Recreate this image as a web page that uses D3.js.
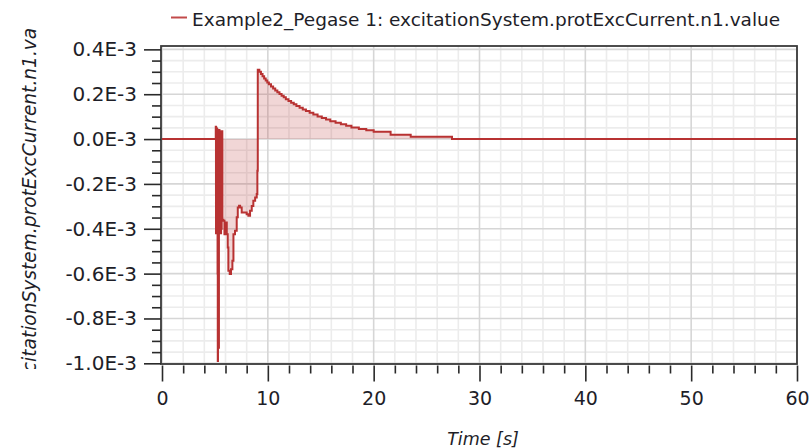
<!DOCTYPE html>
<html>
<head>
<meta charset="utf-8">
<script src="https://cdn.jsdelivr.net/npm/d3@7"></script>
<style>
  html, body { margin: 0; padding: 0; background: #fff; }
  svg { display: block; }
  text { font-family: "DejaVu Sans", Verdana, sans-serif; fill: #1e1e28; }
</style>
</head>
<body>
<svg id="chart" width="810" height="448"></svg>
<script>
// Simulation trace: excitation current protection signal (values in units of 1E-3)
const seriesName = "Example2_Pegase 1: excitationSystem.protExcCurrent.n1.value";
const yTitle = "excitationSystem.protExcCurrent.n1.value";
const xTitle = "Time [s]";

const timeS = [
  0, 5.05, 5.08, 5.10, 5.13, 5.16, 5.19, 5.22, 5.25, 5.27, 5.29, 5.31, 5.34, 5.38, 5.40,
  5.43, 5.46, 5.49, 5.52, 5.55, 5.58, 5.61, 5.64, 5.70, 5.80, 5.90, 6.02, 6.12, 6.21,
  6.27, 6.40, 6.52, 6.65, 6.75, 6.90, 7.06, 7.16, 7.28, 7.38, 7.53, 7.85, 8.00, 8.16,
  8.32, 8.48, 8.63, 8.80, 8.95, 9.01, 9.05, 9.20, 9.35, 9.50, 9.65, 9.80, 9.95, 10.10,
  10.30, 10.50, 10.70, 10.90, 11.10, 11.30, 11.50, 11.70, 11.95, 12.20, 12.45, 12.70,
  13.00, 13.30, 13.60, 13.95, 14.30, 14.70, 15.10, 15.50, 15.90, 16.40, 16.90, 17.40,
  17.90, 18.60, 19.30, 20.00, 21.60, 23.50, 27.40, 60
];
const valueE3 = [
  0, 0, 0.055, -0.42, 0.05, -0.42, 0.045, -0.42, -0.60, -0.99, -0.42, 0.04, -0.93, -0.40, 0.04,
  -0.42, 0.035, -0.42, 0.035, -0.42, 0.035, -0.40, 0.035, -0.36, -0.364, -0.424, -0.372, -0.424, -0.483,
  -0.587, -0.602, -0.58, -0.543, -0.424, -0.409, -0.349, -0.305, -0.297, -0.305, -0.327, -0.327, -0.335, -0.342,
  -0.320, -0.298, -0.275, -0.260, -0.245, -0.141, 0.309, 0.300, 0.290, 0.280, 0.270, 0.261, 0.252, 0.244,
  0.234, 0.225, 0.217, 0.209, 0.201, 0.193, 0.186, 0.178, 0.170, 0.162, 0.155, 0.148,
  0.140, 0.132, 0.125, 0.117, 0.109, 0.101, 0.094, 0.087, 0.080, 0.073, 0.066, 0.059,
  0.052, 0.045, 0.039, 0.033, 0.019, 0.010, 0.000, 0
];

// Axis ticks
const xMajorTicks = [0, 10, 20, 30, 40, 50, 60];
const xMinorTicks = [2, 4, 6, 8, 12, 14, 16, 18, 22, 24, 26, 28, 32, 34, 36, 38, 42, 44, 46, 48, 52, 54, 56, 58];
const yMajorTicks = [0.4, 0.2, 0.0, -0.2, -0.4, -0.6, -0.8, -1.0];
const yTickLabels = ["0.4E-3", "0.2E-3", "0.0E-3", "-0.2E-3", "-0.4E-3", "-0.6E-3", "-0.8E-3", "-1.0E-3"];
const yMinorTicks = [0.35, 0.3, 0.25, 0.15, 0.1, 0.05, -0.05, -0.1, -0.15, -0.25, -0.3, -0.35,
  -0.45, -0.5, -0.55, -0.65, -0.7, -0.75, -0.85, -0.9, -0.95];

const svg = d3.select("#chart");
const plot = { left: 161, right: 797, top: 46, bottom: 364 };

const x = d3.scaleLinear().domain([0, 60]).range([162, 797]);
const y = d3.scaleLinear().domain([-1.003, 0.415]).range([plot.bottom, plot.top]);

const data = timeS.map((t, i) => ({ t, v: valueE3[i] }));

// Grid
const grid = svg.append("g");
xMinorTicks.forEach(t => grid.append("line")
  .attr("x1", x(t)).attr("x2", x(t)).attr("y1", plot.top).attr("y2", plot.bottom)
  .attr("stroke", "#ececec").attr("stroke-width", 1.6));
yMinorTicks.forEach(v => grid.append("line")
  .attr("x1", plot.left).attr("x2", plot.right).attr("y1", y(v)).attr("y2", y(v))
  .attr("stroke", "#ececec").attr("stroke-width", 1.6));
xMajorTicks.forEach(t => grid.append("line")
  .attr("x1", x(t)).attr("x2", x(t)).attr("y1", plot.top).attr("y2", plot.bottom)
  .attr("stroke", "#d6d6d6").attr("stroke-width", 1.6));
yMajorTicks.forEach(v => grid.append("line")
  .attr("x1", plot.left).attr("x2", plot.right).attr("y1", y(v)).attr("y2", y(v))
  .attr("stroke", "#d6d6d6").attr("stroke-width", 1.6));

// Clip for the trace
svg.append("clipPath").attr("id", "plotClip").append("rect")
  .attr("x", plot.left).attr("y", plot.top)
  .attr("width", plot.right - plot.left).attr("height", plot.bottom - plot.top);

// Sampled signal held between samples
const area = d3.area().curve(d3.curveStepAfter).x(d => x(d.t)).y0(y(0)).y1(d => y(d.v));
const line = d3.line().curve(d3.curveStepAfter).x(d => x(d.t)).y(d => y(d.v));

const traceG = svg.append("g").attr("clip-path", "url(#plotClip)");
traceG.append("path").datum(data).attr("d", area)
  .attr("fill", "rgba(186, 52, 52, 0.2)");
traceG.append("path").datum(data).attr("d", line)
  .attr("fill", "none").attr("stroke", "#b83232").attr("stroke-width", 2)
  .attr("stroke-linejoin", "miter");

// Frame
svg.append("rect")
  .attr("x", plot.left).attr("y", plot.top)
  .attr("width", plot.right - plot.left).attr("height", plot.bottom - plot.top)
  .attr("fill", "none").attr("stroke", "#3a3a3a").attr("stroke-width", 1.8);

// Y axis
const yAxisMajor = d3.axisLeft(y).tickValues(yMajorTicks).tickSize(17).tickPadding(7)
  .tickFormat((d, i) => yTickLabels[i]);
const yAxisMinor = d3.axisLeft(y).tickValues(yMinorTicks).tickSize(9).tickFormat("");
const gyMinor = svg.append("g").attr("transform", `translate(${plot.left},0)`).call(yAxisMinor);
const gy = svg.append("g").attr("transform", `translate(${plot.left},0)`).call(yAxisMajor);
[gy, gyMinor].forEach(g => {
  g.select(".domain").remove();
  g.selectAll(".tick line").attr("stroke", "#2a2a2a").attr("stroke-width", 1.6);
});
gy.selectAll(".tick text").attr("font-size", 20).attr("fill", "#1e1e28")
  .attr("font-family", "DejaVu Sans");

// X axis
const xAxisMajor = d3.axisBottom(x).tickValues(xMajorTicks).tickSize(16).tickPadding(10)
  .tickFormat(d3.format("d"));
const xAxisMinor = d3.axisBottom(x).tickValues(xMinorTicks).tickSize(8).tickFormat("");
const axisY = plot.bottom + 1.5;
const gxMinor = svg.append("g").attr("transform", `translate(0,${axisY})`).call(xAxisMinor);
const gx = svg.append("g").attr("transform", `translate(0,${axisY})`).call(xAxisMajor);
[gx, gxMinor].forEach(g => {
  g.select(".domain").remove();
  g.selectAll(".tick line").attr("stroke", "#2a2a2a").attr("stroke-width", 1.6);
});
gx.selectAll(".tick text").attr("font-size", 19).attr("fill", "#1e1e28")
  .attr("font-family", "DejaVu Sans");

// Axis titles
svg.append("text")
  .attr("x", (plot.left + plot.right) / 2 + 4).attr("y", 445)
  .attr("text-anchor", "middle").attr("font-size", 17.5).attr("font-style", "italic")
  .text(xTitle);

// The long y title is shown through a window the height of the axis area
svg.append("clipPath").attr("id", "yTitleClip").append("rect")
  .attr("x", 0).attr("y", 29).attr("width", 60).attr("height", 340);
svg.append("g").attr("clip-path", "url(#yTitleClip)")
  .append("text")
  .attr("transform", "translate(36,197) rotate(-90)")
  .attr("text-anchor", "middle").attr("font-size", 18.6).attr("font-style", "italic")
  .text(yTitle);

// Legend
const legend = svg.append("g");
legend.append("line").attr("x1", 171).attr("x2", 187).attr("y1", 17.5).attr("y2", 17.5)
  .attr("stroke", "#c24a4a").attr("stroke-width", 2);
legend.append("text").attr("x", 192).attr("y", 26).attr("font-size", 18.5)
  .text(seriesName);
</script>
</body>
</html>
